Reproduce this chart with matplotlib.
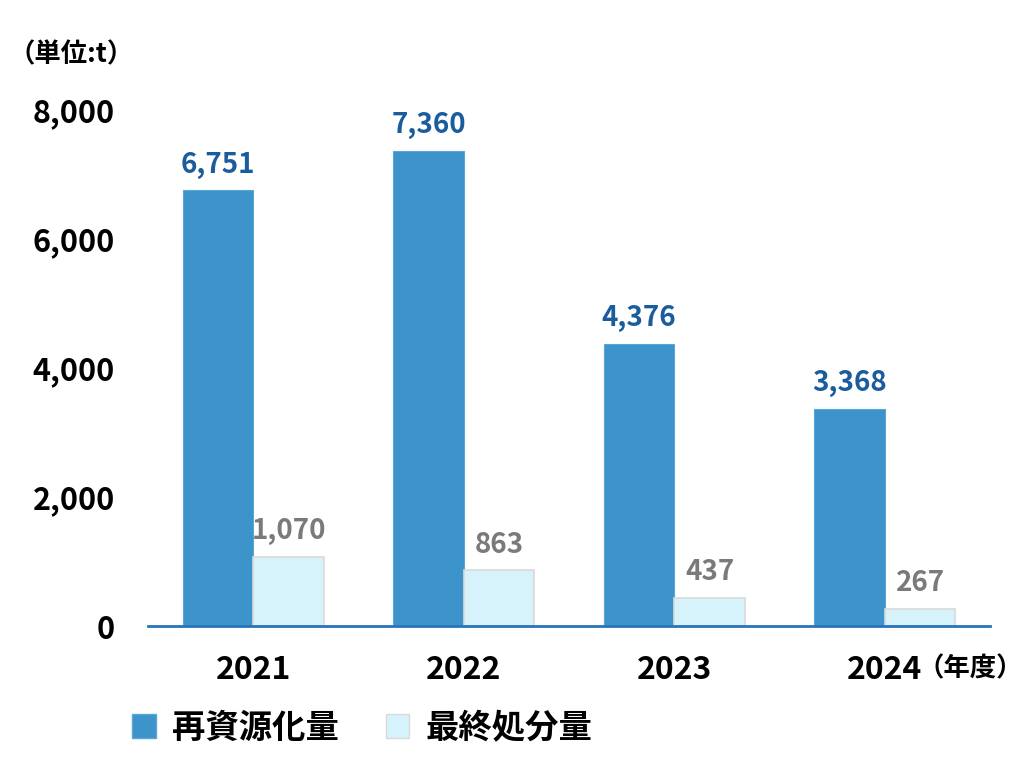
import matplotlib
matplotlib.use('Agg')
import numpy as np
import matplotlib.pyplot as plt
from matplotlib.patches import Patch

plt.rcParams['font.family'] = ['Noto Sans CJK JP', 'DejaVu Sans']
plt.rcParams['font.weight'] = 'bold'

years = ['2021', '2022', '2023', '2024']
recycled = [6751, 7360, 4376, 3368]
disposal = [1070, 863, 437, 267]
series_names = ['再資源化量', '最終処分量']

blue = '#3D94CA'
light = '#D6F2FA'

fig = plt.figure(figsize=(10.24, 7.57), dpi=100)
ax = fig.add_axes([0.1445, 0.173, 0.8225, 0.682])

x = np.arange(len(years))
w = 0.335
b1 = ax.bar(x - w / 2, recycled, w, color=blue, edgecolor='#5AA6D6', linewidth=0.8)
b2 = ax.bar(x + w / 2, disposal, w, color=light, edgecolor='#D9D9D9', linewidth=1.2)

for xi, v in zip(x, recycled):
    ax.text(xi - w / 2, v + 180, f'{v:,}', ha='center', va='bottom',
            fontsize=20, color='#1B5C9C', fontweight='bold')
for xi, v in zip(x, disposal):
    ax.text(xi + w / 2, v + 180, f'{v:,}', ha='center', va='bottom',
            fontsize=20, color='#7A7A7A', fontweight='bold')

ax.set_xlim(-0.5, 3.5)
ax.set_ylim(0, 8000)
ax.set_yticks([0, 2000, 4000, 6000, 8000])
ax.set_yticklabels([f'{t:,}' for t in [0, 2000, 4000, 6000, 8000]],
                   fontsize=22, fontweight='bold')
ax.set_xticks(x)
ax.set_xticklabels(years, fontsize=23, fontweight='bold')
ax.tick_params(axis='both', length=0)
ax.tick_params(axis='y', pad=24)
ax.tick_params(axis='x', pad=20)

for s in ['top', 'right', 'left']:
    ax.spines[s].set_visible(False)
ax.spines['bottom'].set_color('#2874BA')
ax.spines['bottom'].set_linewidth(2)

fig.text(0.008, 0.927, '（単位:t）', fontsize=19, fontweight='bold', va='center')
fig.text(0.896, 0.117, '（年度）', fontsize=19, fontweight='bold', va='center')

handles = [Patch(facecolor=blue, edgecolor='#5AA6D6'),
           Patch(facecolor=light, edgecolor='#D9D9D9')]
fig.legend(handles, series_names, loc='center', bbox_to_anchor=(0.354, 0.038),
           ncol=2, frameon=False, handlelength=0.7, handleheight=0.7,
           handletextpad=0.5, columnspacing=1.4, prop={'size': 24, 'weight': 'bold'})

fig.savefig('out.png', dpi=100)
